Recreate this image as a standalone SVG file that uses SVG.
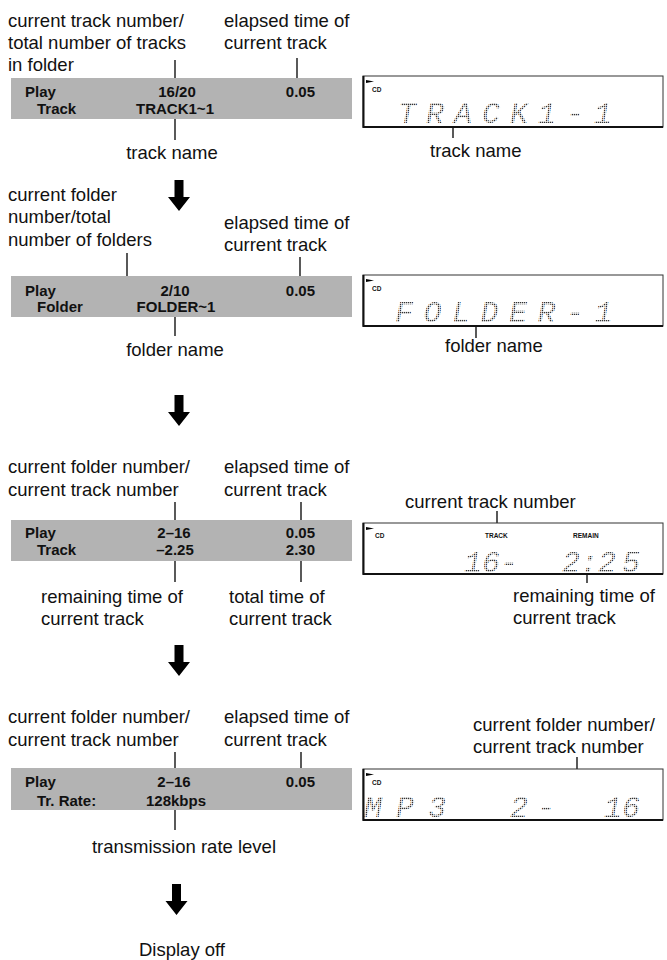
<svg xmlns="http://www.w3.org/2000/svg" width="667" height="960" viewBox="0 0 667 960">
<style>
.lbl{font-family:"Liberation Sans",Arial,sans-serif;font-size:18.5px;fill:#111}
.bar{font-family:"Liberation Sans",Arial,sans-serif;font-size:15px;font-weight:bold;fill:#111}
.tiny{font-family:"Liberation Sans",Arial,sans-serif;font-size:6.5px;font-weight:bold;fill:#111}
.seg{font-family:"Liberation Mono","DejaVu Sans Mono",monospace;font-size:30px;font-style:italic;fill:url(#dots)}
.gbar{fill:#b3b3b3}
.lead{stroke:#000;stroke-width:1.3;fill:none}
.lcd{fill:#fff;stroke:#333;stroke-width:1}
.lcde{stroke:#111;stroke-width:2;fill:none}
.arr{fill:#000}
</style>
<defs>
<pattern id="dots" width="2" height="2" patternUnits="userSpaceOnUse"><rect width="1.3" height="1.3" fill="#333"/></pattern>
</defs>
<g id="arrows">
<polygon class="arr" points="174.5,180 183.5,180 183.5,197 190,197 179,211 168,197 174.5,197"/>
<polygon class="arr" points="174.5,395 183.5,395 183.5,412 190,412 179,426 168,412 174.5,412"/>
<polygon class="arr" points="174.5,645 183.5,645 183.5,662 190,662 179,676 168,662 174.5,662"/>
<polygon class="arr" points="172,884 181,884 181,901 187.5,901 176.5,915 165.5,901 172,901"/>
</g>
<g id="connectors">
<line class="lead" x1="175" y1="60" x2="175" y2="79"/>
<line class="lead" x1="297" y1="58" x2="297" y2="79"/>
<line class="lead" x1="175" y1="119" x2="175" y2="140"/>
<line class="lead" x1="453" y1="127" x2="453" y2="138"/>
<polyline points="127,253 127,287 153,287" fill="none" stroke="#fff" stroke-width="3.5"/>
<polyline class="lead" points="127,253 127,287 153,287"/>
<line class="lead" x1="300" y1="257" x2="300" y2="277"/>
<line class="lead" x1="175" y1="317" x2="175" y2="336"/>
<line class="lead" x1="476" y1="326" x2="476" y2="338"/>
<line class="lead" x1="175" y1="502" x2="175" y2="520"/>
<line class="lead" x1="301" y1="502" x2="301" y2="520"/>
<line class="lead" x1="175" y1="561" x2="175" y2="582"/>
<line class="lead" x1="301" y1="561" x2="301" y2="582"/>
<line class="lead" x1="497" y1="511" x2="497" y2="533"/>
<line class="lead" x1="587" y1="573" x2="587" y2="583"/>
<line class="lead" x1="175" y1="752" x2="175" y2="768"/>
<line class="lead" x1="301" y1="752" x2="301" y2="768"/>
<line class="lead" x1="175" y1="810" x2="175" y2="830"/>
<line class="lead" x1="577" y1="757" x2="577" y2="792"/>
<polyline class="lead" stroke-width="1.6" points="512,799 512,792 643,792 643,799"/>
</g>
<g id="labels">
<text class="lbl" x="8" y="27">current track number/</text>
<text class="lbl" x="8" y="49">total number of tracks</text>
<text class="lbl" x="8" y="71">in folder</text>
<text class="lbl" x="224" y="27">elapsed time of</text>
<text class="lbl" x="224" y="49">current track</text>
<text class="lbl" x="172" y="159" text-anchor="middle">track name</text>
<text class="lbl" x="430" y="157">track name</text>
<text class="lbl" x="8" y="201">current folder</text>
<text class="lbl" x="8" y="223">number/total</text>
<text class="lbl" x="8" y="246">number of folders</text>
<text class="lbl" x="224" y="229">elapsed time of</text>
<text class="lbl" x="224" y="251">current track</text>
<text class="lbl" x="175" y="356" text-anchor="middle">folder name</text>
<text class="lbl" x="445" y="352">folder name</text>
<text class="lbl" x="8" y="473">current folder number/</text>
<text class="lbl" x="8" y="496">current track number</text>
<text class="lbl" x="224" y="473">elapsed time of</text>
<text class="lbl" x="224" y="496">current track</text>
<text class="lbl" x="41" y="603">remaining time of</text>
<text class="lbl" x="41" y="625">current track</text>
<text class="lbl" x="229" y="603">total time of</text>
<text class="lbl" x="229" y="625">current track</text>
<text class="lbl" x="405" y="508">current track number</text>
<text class="lbl" x="513" y="602">remaining time of</text>
<text class="lbl" x="513" y="624">current track</text>
<text class="lbl" x="8" y="723">current folder number/</text>
<text class="lbl" x="8" y="746">current track number</text>
<text class="lbl" x="224" y="723">elapsed time of</text>
<text class="lbl" x="224" y="746">current track</text>
<text class="lbl" x="473" y="731">current folder number/</text>
<text class="lbl" x="473" y="753">current track number</text>
<text class="lbl" x="184" y="853" text-anchor="middle">transmission rate level</text>
<text class="lbl" x="182" y="956" text-anchor="middle">Display off</text>
</g>
<g id="bar1">
<rect class="gbar" x="11" y="78" width="341" height="41"/>
<text class="bar" x="25" y="97">Play</text>
<text class="bar" x="177" y="97" text-anchor="middle">16/20</text>
<text class="bar" x="315" y="97" text-anchor="end">0.05</text>
<text class="bar" x="37" y="114">Track</text>
<text class="bar" x="175" y="114" text-anchor="middle">TRACK1~1</text>
</g>
<g id="bar2">
<rect class="gbar" x="11" y="276" width="341" height="41"/>
<text class="bar" x="25" y="296">Play</text>
<text class="bar" x="175" y="296" text-anchor="middle">2/10</text>
<text class="bar" x="315" y="296" text-anchor="end">0.05</text>
<text class="bar" x="37" y="312">Folder</text>
<text class="bar" x="176" y="312" text-anchor="middle">FOLDER~1</text>
</g>
<g id="bar3">
<rect class="gbar" x="11" y="520" width="341" height="41"/>
<text class="bar" x="25" y="538">Play</text>
<text class="bar" x="174" y="538" text-anchor="middle">2–16</text>
<text class="bar" x="315" y="538" text-anchor="end">0.05</text>
<text class="bar" x="37" y="555">Track</text>
<text class="bar" x="175" y="555" text-anchor="middle">–2.25</text>
<text class="bar" x="315" y="555" text-anchor="end">2.30</text>
</g>
<g id="bar4">
<rect class="gbar" x="11" y="768" width="341" height="42"/>
<text class="bar" x="25" y="787">Play</text>
<text class="bar" x="174" y="787" text-anchor="middle">2–16</text>
<text class="bar" x="315" y="787" text-anchor="end">0.05</text>
<text class="bar" x="37" y="806">Tr. Rate:</text>
<text class="bar" x="176" y="806" text-anchor="middle">128kbps</text>
</g>
<g id="lcd1">
<rect class="lcd" x="363" y="76" width="300" height="51"/>
<polyline class="lcde" points="363.5,76 363.5,127 663,127"/>
<polygon points="366,80 374,81.5 366,83"/>
<text class="tiny" x="372" y="92">CD</text>
<text class="seg" x="398" y="123" letter-spacing="10">TRACK1-1</text>
</g>
<g id="lcd2">
<rect class="lcd" x="363" y="275" width="300" height="51"/>
<polyline class="lcde" points="363.5,275 363.5,326 663,326"/>
<polygon points="366,279 374,280.5 366,282"/>
<text class="tiny" x="372" y="291">CD</text>
<text class="seg" x="395" y="322" letter-spacing="10.5">FOLDER-1</text>
</g>
<g id="lcd3">
<rect class="lcd" x="363" y="523" width="300" height="51"/>
<polyline class="lcde" points="363.5,523 363.5,574 663,574"/>
<polygon points="366,527 374,528.5 366,530"/>
<text class="tiny" x="375" y="538">CD</text>
<text class="tiny" x="485" y="538">TRACK</text>
<text class="tiny" x="573" y="538">REMAIN</text>
<text class="seg" x="464" y="572">16-</text>
<text class="seg" x="562" y="572">2</text>
<text class="seg" x="580" y="572" font-size="17">:</text>
<text class="seg" x="598" y="572" letter-spacing="6">25</text>
</g>
<g id="lcd4">
<rect class="lcd" x="363" y="769" width="300" height="51"/>
<polyline class="lcde" points="363.5,769 363.5,820 663,820"/>
<polygon points="366,773 374,774.5 366,776"/>
<text class="tiny" x="372" y="785">CD</text>
<text class="seg" x="364" y="817" letter-spacing="14">MP3</text>
<text class="seg" x="510" y="817" letter-spacing="9">2-</text>
<text class="seg" x="604" y="817">16</text>
</g>
</svg>
